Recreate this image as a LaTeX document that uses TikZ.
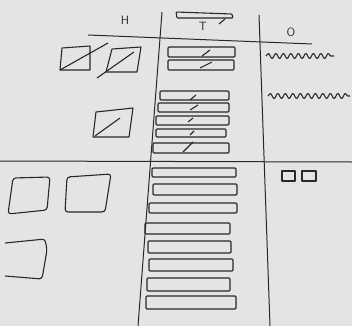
\documentclass[tikz,border=0pt]{standalone}
\usetikzlibrary{decorations.pathmorphing}
\definecolor{paper}{RGB}{228,228,226}
\definecolor{ink}{RGB}{40,40,40}

\begin{document}
\begin{tikzpicture}[
    x=1pt, y=-1pt,
    sketch/.style={draw=ink, line width=1.1pt, line join=round},
    bar/.style={sketch, rounded corners=1pt},
    frame/.style={draw=ink, line width=1pt},
    heading/.style={font=\sffamily\large, text=ink, inner sep=1pt},
    scribble/.style={sketch, decorate, decoration={snake, amplitude=2.5pt, segment length=7.5pt}}
]
    % Paper
    \fill[paper] (0,0) rectangle (352,326);
    \useasboundingbox (0,0) rectangle (352,326);

    % Headings
    \node[heading] (hHead) at (125,20) {H};
    \node[heading] (tHead) at (203,26) {T};
    \node[heading] (oHead) at (291,32) {O};

    % Grid lines
    \draw[frame] (88,35) -- (312,44);
    \draw[frame] (0,161) -- (352,162);
    \draw[frame] (162,12) -- (138,326);
    \draw[frame] (259,15) -- (270,326);

    % H column, upper part
    \draw[sketch] (62,48) -- (90,46) -- (90,70) -- (60,70) -- cycle;
    \draw[sketch] (60,70) -- (108,43);
    \draw[sketch] (112,49) -- (141,47) -- (137,72) -- (106,72) -- cycle;
    \draw[sketch] (97,78) -- (134,52);
    \draw[sketch] (96,112) -- (133,108) -- (129,137) -- (93,137) -- cycle;
    \draw[sketch] (95,136) -- (120,118);

    % H column, lower part
    \draw[sketch, rounded corners=3pt] (13,178) -- (50,177) -- (47,210) -- (8,214) -- cycle;
    \draw[sketch, rounded corners=3pt] (67,177) -- (111,174) -- (105,212) -- (65,212) -- cycle;
    \draw[sketch, rounded corners=3pt] (5,243) -- (45,239) -- (47,250) -- (42,279) -- (5,276);

    % T column, header bar
    \draw[bar] (176,12) -- (232,14) -- (233,18) -- (177,18) -- cycle;
    \draw[sketch] (219,24) -- (225,19);

    % T column, upper bars
    \draw[bar] (168,47) rectangle (235,57);
    \draw[sketch] (202,56) -- (210,50);
    \draw[bar] (168,60) rectangle (234,70);
    \draw[sketch] (200,68) -- (212,62);
    \draw[bar] (160,91) rectangle (229,100);
    \draw[sketch] (190,100) -- (196,95);
    \draw[bar] (158,103) rectangle (229,112);
    \draw[sketch] (190,110) -- (198,105);
    \draw[bar] (156,116) rectangle (229,125);
    \draw[sketch] (188,122) -- (193,118);
    \draw[bar] (156,129) rectangle (226,137);
    \draw[sketch] (190,135) -- (194,131);
    \draw[bar] (153,143) rectangle (229,153);
    \draw[sketch] (183,152) -- (193,142);

    % T column, lower bars
    \draw[bar] (152,168) rectangle (236,177);
    \draw[bar] (153,184) rectangle (237,195);
    \draw[bar] (149,203) rectangle (237,213);
    \draw[bar] (145,223) rectangle (230,234);
    \draw[bar] (148,241) rectangle (231,253);
    \draw[bar] (149,259) rectangle (233,271);
    \draw[bar] (147,278) rectangle (230,291);
    \draw[bar] (146,296) rectangle (236,309);

    % O column
    \draw[scribble] (266,56) -- (334,56);
    \draw[scribble] (268,96) -- (350,96);
    \draw[sketch] (282,171) rectangle (295,181);
    \draw[sketch] (302,171) rectangle (316,181);
\end{tikzpicture}
\end{document}
